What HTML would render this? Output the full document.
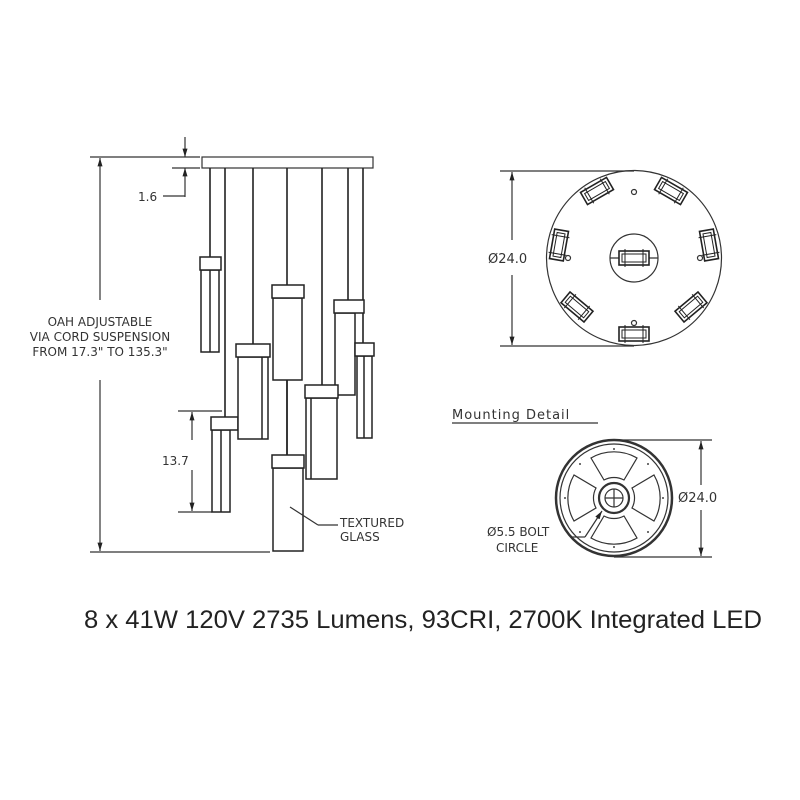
<!DOCTYPE html>
<html><head><meta charset="utf-8"><style>
html,body{margin:0;padding:0;background:#fff}
svg{display:block}
text{font-family:"DejaVu Sans","Liberation Sans",sans-serif;fill:#333}
</style></head><body>
<svg width="800" height="800" viewBox="0 0 800 800" xmlns="http://www.w3.org/2000/svg">
<defs>
<marker id="a" viewBox="0 0 10 10" refX="10" refY="5" markerWidth="7" markerHeight="7" orient="auto-start-reverse"><path d="M0,2 L10,5 L0,8 z" fill="#222"/></marker>
<g id="hd"><rect x="-15" y="-7" width="30" height="14" fill="#fff" stroke="#222" stroke-width="1.6"/><rect x="-12" y="-4" width="24" height="8" fill="none" stroke="#222" stroke-width="1"/><line x1="-9" y1="-9" x2="-9" y2="9" stroke="#222"/><line x1="9" y1="-9" x2="9" y2="9" stroke="#222"/></g>
<path id="q" d="M591,458 A46,46 0 0 1 637,458 L624,480 A21,21 0 0 0 604,480 Z" fill="none" stroke="#333" stroke-width="1.2"/>
</defs>
<rect width="800" height="800" fill="#fff"/>
<g stroke="#333" fill="none" stroke-width="1.2">
<rect x="202" y="157" width="171" height="11" fill="#fff"/>
<line x1="90" y1="157" x2="200" y2="157"/>
<line x1="172" y1="168" x2="200" y2="168"/>
<line x1="185" y1="137" x2="185" y2="157" marker-end="url(#a)"/>
<line x1="185" y1="190" x2="185" y2="168" marker-end="url(#a)"/>
<line x1="185" y1="190" x2="185" y2="197"/>
<line x1="163" y1="196" x2="185" y2="196"/>
<line x1="100" y1="300" x2="100" y2="158" marker-end="url(#a)"/>
<line x1="100" y1="380" x2="100" y2="551" marker-end="url(#a)"/>
<line x1="90" y1="552" x2="270" y2="552"/>
<line x1="178" y1="411" x2="222" y2="411"/>
<line x1="178" y1="512" x2="212" y2="512"/>
<line x1="192" y1="440" x2="192" y2="412" marker-end="url(#a)"/>
<line x1="192" y1="470" x2="192" y2="511" marker-end="url(#a)"/>
<g stroke-width="1.6" stroke="#222">
<line x1="210" y1="168" x2="210" y2="257"/>
<line x1="225" y1="168" x2="225" y2="417"/>
<line x1="253" y1="168" x2="253" y2="344"/>
<line x1="287" y1="168" x2="287" y2="455"/>
<line x1="322" y1="168" x2="322" y2="385"/>
<line x1="348" y1="168" x2="348" y2="300"/>
<line x1="363" y1="168" x2="363" y2="343"/>
</g>
<g stroke="#222" stroke-width="1.5" fill="#fff">
<rect x="201" y="270" width="18" height="82"/><rect x="200" y="257" width="21" height="13"/><line x1="210" y1="270" x2="210" y2="352"/>
<rect x="212" y="430" width="18" height="82"/><rect x="211" y="417" width="27" height="13"/><line x1="221" y1="430" x2="221" y2="512"/>
<rect x="238" y="357" width="30" height="82"/><rect x="236" y="344" width="34" height="13"/><line x1="262" y1="357" x2="262" y2="439"/>
<rect x="273" y="298" width="29" height="82"/><rect x="272" y="285" width="32" height="13"/>
<rect x="335" y="313" width="20" height="82"/><rect x="334" y="300" width="30" height="13"/>
<rect x="357" y="356" width="15" height="82"/><rect x="355" y="343" width="19" height="13"/><line x1="364" y1="356" x2="364" y2="438"/>
<rect x="306" y="398" width="31" height="81"/><rect x="305" y="385" width="33" height="13"/><line x1="311" y1="398" x2="311" y2="479"/>
<line x1="287" y1="380" x2="287" y2="455"/>
<rect x="273" y="468" width="30" height="83"/><rect x="272" y="455" width="32" height="13"/>
</g>
<line x1="290" y1="507" x2="318" y2="525"/><line x1="318" y1="525" x2="338" y2="525"/>
<line x1="500" y1="171" x2="634" y2="171"/>
<line x1="500" y1="346" x2="634" y2="346"/>
<line x1="512" y1="240" x2="512" y2="172" marker-end="url(#a)"/>
<line x1="512" y1="275" x2="512" y2="345" marker-end="url(#a)"/>
<circle cx="634" cy="258" r="87.5"/>
<circle cx="634" cy="258" r="24"/>
<line x1="610" y1="258" x2="658" y2="258"/>
<circle cx="634" cy="192" r="2.5"/><circle cx="568" cy="258" r="2.5"/><circle cx="700" cy="258" r="2.5"/><circle cx="634" cy="323" r="2.5"/>
</g>
<use href="#hd" transform="translate(634,258)"/>
<use href="#hd" transform="translate(634,334)"/>
<use href="#hd" transform="translate(577,307) rotate(40)"/>
<use href="#hd" transform="translate(559,245) rotate(100)"/>
<use href="#hd" transform="translate(597,191) rotate(-30)"/>
<use href="#hd" transform="translate(671,191) rotate(30)"/>
<use href="#hd" transform="translate(709,245) rotate(80)"/>
<use href="#hd" transform="translate(691,307) rotate(-40)"/>
<g stroke="#333" fill="none" stroke-width="1.2">
<line x1="452" y1="423" x2="598" y2="423"/>
<line x1="614" y1="440" x2="712" y2="440"/>
<line x1="614" y1="557" x2="712" y2="557"/>
<line x1="701" y1="485" x2="701" y2="441" marker-end="url(#a)"/>
<line x1="701" y1="510" x2="701" y2="556" marker-end="url(#a)"/>
<circle cx="614" cy="498" r="58" stroke-width="2.5"/>
<circle cx="614" cy="498" r="54"/>
<circle cx="614" cy="498" r="15" stroke-width="2.2"/>
<circle cx="614" cy="498" r="9"/>
<line x1="605" y1="498" x2="623" y2="498"/><line x1="614" y1="489" x2="614" y2="507"/>
<line x1="585" y1="537" x2="602" y2="511" marker-end="url(#a)"/>
<line x1="572" y1="537" x2="585" y2="537"/>
</g>
<use href="#q"/>
<use href="#q" transform="rotate(90 614 498)"/>
<use href="#q" transform="rotate(180 614 498)"/>
<use href="#q" transform="rotate(270 614 498)"/>
<g fill="#444">
<circle cx="614" cy="449" r="1"/><circle cx="614" cy="547" r="1"/><circle cx="565" cy="498" r="1"/><circle cx="663" cy="498" r="1"/>
<circle cx="580" cy="464" r="1"/><circle cx="648" cy="464" r="1"/><circle cx="580" cy="532" r="1"/><circle cx="648" cy="532" r="1"/>
</g>
<g font-size="12">
<text x="138" y="201">1.6</text>
<text x="162" y="465">13.7</text>
<text x="340" y="527">TEXTURED</text>
<text x="340" y="541">GLASS</text>
<text x="100" y="326" text-anchor="middle">OAH ADJUSTABLE</text>
<text x="100" y="341" text-anchor="middle">VIA CORD SUSPENSION</text>
<text x="100" y="356" text-anchor="middle">FROM 17.3" TO 135.3"</text>
<text x="488" y="263" font-size="13">Ø24.0</text>
<text x="678" y="502" font-size="13">Ø24.0</text>
<text x="487" y="536">Ø5.5 BOLT</text>
<text x="496" y="552">CIRCLE</text>
<text x="452" y="419" font-size="13" letter-spacing="1">Mounting  Detail</text>
</g>
<text x="84" y="628" font-size="25" textLength="678" lengthAdjust="spacingAndGlyphs" style="font-family:'Liberation Sans',sans-serif;fill:#222">8 x 41W 120V 2735 Lumens, 93CRI, 2700K Integrated LED</text>
</svg>
</body></html>
